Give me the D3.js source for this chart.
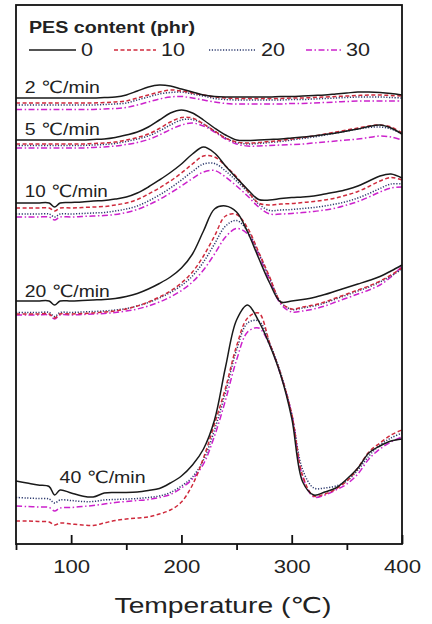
<!DOCTYPE html>
<html>
<head>
<meta charset="utf-8">
<script src="https://cdn.jsdelivr.net/npm/d3@7"></script>
<style>
body { margin: 0; background: #fff; }
text { font-family: "Liberation Sans", Arial, "DejaVu Sans", sans-serif; fill: #222; }
</style>
</head>
<body>
<div id="chart-area"></div>
<script>
/*
*    DSC cooling curves, PES content series
*/

// temperature grid (degC)
var temps = [50, 60, 70, 80, 85, 90, 100, 110, 120, 130, 140, 150, 160, 170, 180, 190, 200, 210, 220, 230,
    240, 250, 260, 270, 280, 290, 300, 310, 320, 330, 340, 350, 360, 370, 380, 390, 400];

var contents = ["0", "10", "20", "30"];
var rates = ["2", "5", "10", "20", "40"];
var xTicks = [100, 200, 300, 400];
var xMinorTicks = [50, 150, 250, 350];

// heat flow (a.u., curves shifted for clarity), one array per rate / PES content
var hf2_0 = [446, 446, 446, 446, 446, 446, 446, 446, 446, 446.5, 447, 449, 453, 457, 459, 458, 455, 452, 449, 447.5,
    447, 447, 447, 447, 447, 447.5, 447.5, 448, 448.5, 449, 450, 451, 452, 452, 451.5, 450.5, 449];
var hf2_10 = [441, 441, 441, 441, 441, 441, 441, 441, 441, 441.5, 442, 443, 446, 449, 452, 454, 453, 451, 449, 447,
    446, 445.5, 445.5, 445.5, 445.5, 445.5, 446, 446, 446.5, 447, 447.5, 448, 448.5, 449, 449, 448.5, 448];
var hf2_20 = [439, 439, 439, 439, 439, 439, 439, 439, 439, 439.5, 440, 441, 444, 447, 450, 451.5, 452, 450, 448, 445.5,
    444.5, 444, 444, 444, 444, 444, 444.5, 444.5, 445, 445.5, 446, 446.5, 447, 447, 447, 446.5, 446];
var hf2_30 = [434.5, 434.5, 434.5, 434.5, 434.5, 434.5, 434.5, 434.5, 434.5, 435, 435.5, 436.5, 439, 442, 445, 447, 447.5, 446, 444, 442,
    440.5, 440, 440, 440, 440, 440, 440.5, 440.5, 441, 441.5, 442, 442.5, 443, 443, 443, 443, 443];

var hf5_0 = [404, 404, 404, 404, 404, 404, 404, 404, 404.5, 405, 406.5, 409, 412, 417, 424, 431, 434, 431, 424, 416,
    409, 404, 403.5, 404, 404.5, 405, 406, 407, 408, 409.5, 411, 413, 415, 417.5, 419, 416, 410];
var hf5_10 = [400, 400, 400, 400, 400, 400, 400, 400, 400.5, 401, 402, 404, 406.5, 410, 415.5, 422, 426.5, 426, 420, 413,
    406, 402, 401, 401.5, 402.5, 403.5, 405, 406.5, 408, 410, 412, 414, 416, 418, 419, 417, 411];
var hf5_20 = [398.5, 398.5, 398.5, 398.5, 398.5, 398.5, 398.5, 398.5, 399, 399.5, 400.5, 402.5, 405, 408, 413, 419, 424, 424.5, 420, 413,
    406, 401.5, 400, 400.5, 401.5, 402.5, 404, 405.5, 407, 409, 411, 413, 415, 416.5, 417, 415, 410];
var hf5_30 = [396, 396, 396, 396, 396, 396, 396, 396, 396.5, 397, 398, 399.5, 401.5, 404.5, 409, 414.5, 419, 421, 418, 412,
    405, 400, 398, 398, 398.5, 399, 399.5, 400, 401, 402, 403, 404, 405, 406.5, 408, 407, 404];

var hf10_0 = [341, 341, 341, 341, 337, 341, 341.5, 342, 343, 343.5, 345, 347, 351, 357, 364, 371.5, 380, 390, 397, 391,
    378, 366, 354.5, 344.5, 344, 345.5, 346.5, 347, 348, 350, 352, 354.5, 358, 363, 368, 370, 366];
var hf10_10 = [336, 336, 336, 336, 333, 336, 336, 336.5, 337, 337.5, 339, 341, 344.5, 350, 356, 363, 371, 380, 388, 387,
    378, 367, 353, 341, 339, 340, 340.5, 341.5, 342.5, 344, 346, 349, 352.5, 357.5, 363, 366.5, 364];
var hf10_20 = [330, 330, 330, 330, 327, 330, 330, 330.5, 331, 331.5, 333, 335, 338, 343, 349, 356, 364, 372.5, 380, 380.5,
    373, 363, 352, 340, 333.5, 334, 334.5, 335.5, 336.5, 338, 340, 342.5, 346, 350.5, 355.5, 360, 360];
var hf10_30 = [327, 327, 327, 327, 324, 327, 327, 327.5, 328, 328.5, 329.5, 331.5, 334.5, 339, 344.5, 351, 358, 365.5, 372, 373.5,
    367, 358, 348, 337, 330, 330, 330.5, 331.5, 332.5, 334, 336, 339, 342.5, 347, 352, 356, 357];

var hf20_0 = [243, 243, 243, 243, 239, 243, 243, 243.5, 244, 244.5, 245.5, 247.5, 250.5, 255, 260.5, 267, 276, 290, 313, 335,
    338, 332, 312, 286, 261, 242, 243, 244.5, 246.5, 249.5, 253, 256.5, 260, 263.5, 267.5, 273, 279];
var hf20_10 = [230, 230, 230, 230, 226, 230, 230, 230.5, 231, 232, 233, 235, 238, 242, 247, 253, 261, 272, 288, 308,
    328, 329.5, 316, 292, 267, 242, 235, 237, 239, 242, 246, 250, 254, 258, 263, 269, 276];
var hf20_20 = [231.5, 231.5, 231.5, 231.5, 227.5, 231.5, 231.5, 232, 232.5, 233, 234, 235.5, 238, 241.5, 246, 251.5, 258.5, 268, 282, 300,
    318, 323.5, 313, 291, 266, 242, 234.5, 236, 238, 241, 245, 249, 253, 257, 262, 268, 275];
var hf20_30 = [229, 229, 229, 229, 225, 229, 229, 229.5, 230, 230.5, 231.5, 233, 235, 238, 242, 247, 253.5, 262, 274, 290,
    307, 315.5, 310, 289, 264, 240, 232, 233, 235, 238, 242, 246, 250, 254, 259, 267, 278];

var hf40_0 = [63, 61, 59, 57.5, 49, 54, 51, 48, 47, 51, 51.5, 51.5, 52, 53.5, 55.5, 61, 68, 79, 95, 124,
    177, 224, 239, 223, 199, 169, 126, 62, 49, 52, 56, 65, 76, 91, 98, 103, 105];
var hf40_10 = [23, 23, 22.5, 22, 19, 21, 20, 19, 18.5, 21, 23.5, 25, 26, 27, 30, 34, 42, 59, 86, 120,
    156, 198, 226, 231, 201, 170, 130, 68, 48, 50, 55, 63, 76, 92, 101, 109, 114];
var hf40_20 = [46.5, 46, 45.5, 45, 41, 44, 43.5, 42.5, 42.5, 44, 44.5, 45, 45.5, 46.5, 48, 51.5, 58, 67, 84, 114,
    152, 194, 221, 223, 201, 171, 130, 74, 56, 56, 58, 63, 74, 88, 99, 106, 111];
var hf40_30 = [38, 37.5, 37, 36.5, 33, 36, 36.5, 37.5, 38.5, 40, 41.5, 42.5, 43.5, 44.5, 46.5, 49.5, 56, 65, 80, 108,
    144, 184, 212, 216, 199, 169, 130, 67, 47, 49, 54, 60, 70, 85, 95, 102, 107];

var curves = [
    [hf2_0, hf2_10, hf2_20, hf2_30],
    [hf5_0, hf5_10, hf5_20, hf5_30],
    [hf10_0, hf10_10, hf10_20, hf10_30],
    [hf20_0, hf20_10, hf20_20, hf20_30],
    [hf40_0, hf40_10, hf40_20, hf40_30]
];

// where the rate labels sit (temperature, heat flow)
var labelPos = [[58, 451], [58, 409], [58, 347], [58, 247], [89.5, 61]];
var labelLen = [75, 75, 83, 85, 86];

var colors = ["#1a1a1a", "#cf2a3c", "#2d3a6e", "#cc22cc"];
var dashes = [null, "4,2.5", "1.2,1.6", "6,2.5,1.5,2.5"];

var margin = {top: 5, right: 30, bottom: 80, left: 16};
var width = 386;
var height = 539;

var x = d3.scaleLinear().domain([50, 400]).range([0, width]);
var y = d3.scaleLinear().domain([0, 539]).range([height, 0]);

var svg = d3.select("#chart-area")
    .append("svg")
    .attr("width", 432)
    .attr("height", 624);

var g = svg.append("g")
    .attr("transform", "translate(" + margin.left + ", " + margin.top + ")");

var line = d3.line()
    .x((d, i) => x(temps[i]))
    .y((d) => y(d))
    .curve(d3.curveCatmullRom.alpha(0.5));

// draw 30 first so the neat sample ends on top
curves.forEach((set) => {
    for (var k = set.length - 1; k >= 0; k--) {
        g.append("path")
            .attr("d", line(set[k]))
            .attr("fill", "none")
            .attr("stroke", colors[k])
            .attr("stroke-width", k == 0 ? 1.5 : 1.5)
            .attr("stroke-dasharray", dashes[k]);
    }
});

// rate labels
rates.forEach((r, i) => {
    g.append("text")
        .attr("x", x(labelPos[i][0]))
        .attr("y", y(labelPos[i][1]))
        .attr("font-size", "17px")
        .attr("textLength", labelLen[i])
        .attr("lengthAdjust", "spacingAndGlyphs")
        .text(r + " \u2103/min");
});

// frame
g.append("rect")
    .attr("width", width)
    .attr("height", height)
    .attr("fill", "none")
    .attr("stroke", "#111")
    .attr("stroke-width", 1.8);

// x axis: major ticks point inward, minor ticks outward
var xAxisGroup = g.append("g")
    .attr("class", "x axis")
    .attr("transform", "translate(0, " + height + ")");

xAxisGroup.call(d3.axisBottom(x).tickValues(xTicks).tickSize(-9).tickPadding(16).tickFormat(d3.format("d")));
xAxisGroup.select(".domain").remove();
xAxisGroup.selectAll("line").attr("stroke", "#111").attr("stroke-width", 1.8);
xAxisGroup.selectAll("text")
    .attr("font-size", "18px")
    .attr("fill", "#222")
    .attr("textLength", 37)
    .attr("lengthAdjust", "spacingAndGlyphs");

var minorGroup = g.append("g")
    .attr("transform", "translate(0, " + height + ")");
minorGroup.call(d3.axisBottom(x).tickValues(xMinorTicks).tickSize(6).tickFormat(""));
minorGroup.select(".domain").remove();
minorGroup.selectAll("line").attr("stroke", "#111").attr("stroke-width", 1.8);

g.append("text")
    .attr("x", 207)
    .attr("y", 608)
    .attr("font-size", "22px")
    .attr("text-anchor", "middle")
    .attr("textLength", 217)
    .attr("lengthAdjust", "spacingAndGlyphs")
    .text("Temperature (\u2103)");

// legend
var legend = g.append("g").attr("transform", "translate(13, 0)");

legend.append("text")
    .attr("x", 0)
    .attr("y", 28)
    .attr("font-size", "16px")
    .attr("font-weight", "bold")
    .attr("textLength", 166)
    .attr("lengthAdjust", "spacingAndGlyphs")
    .text("PES content (phr)");

var legX = [0, 85, 180, 277];
var legLen = [47, 42, 47, 35];
contents.forEach((c, k) => {
    legend.append("line")
        .attr("x1", legX[k])
        .attr("x2", legX[k] + legLen[k])
        .attr("y1", 45)
        .attr("y2", 45)
        .attr("stroke", colors[k])
        .attr("stroke-width", 1.5)
        .attr("stroke-dasharray", dashes[k]);
    legend.append("text")
        .attr("x", legX[k] + legLen[k] + 5)
        .attr("y", 51)
        .attr("font-size", "18px")
        .attr("textLength", c.length > 1 ? 24 : 12)
        .attr("lengthAdjust", "spacingAndGlyphs")
        .text(c);
});
</script>
</body>
</html>
